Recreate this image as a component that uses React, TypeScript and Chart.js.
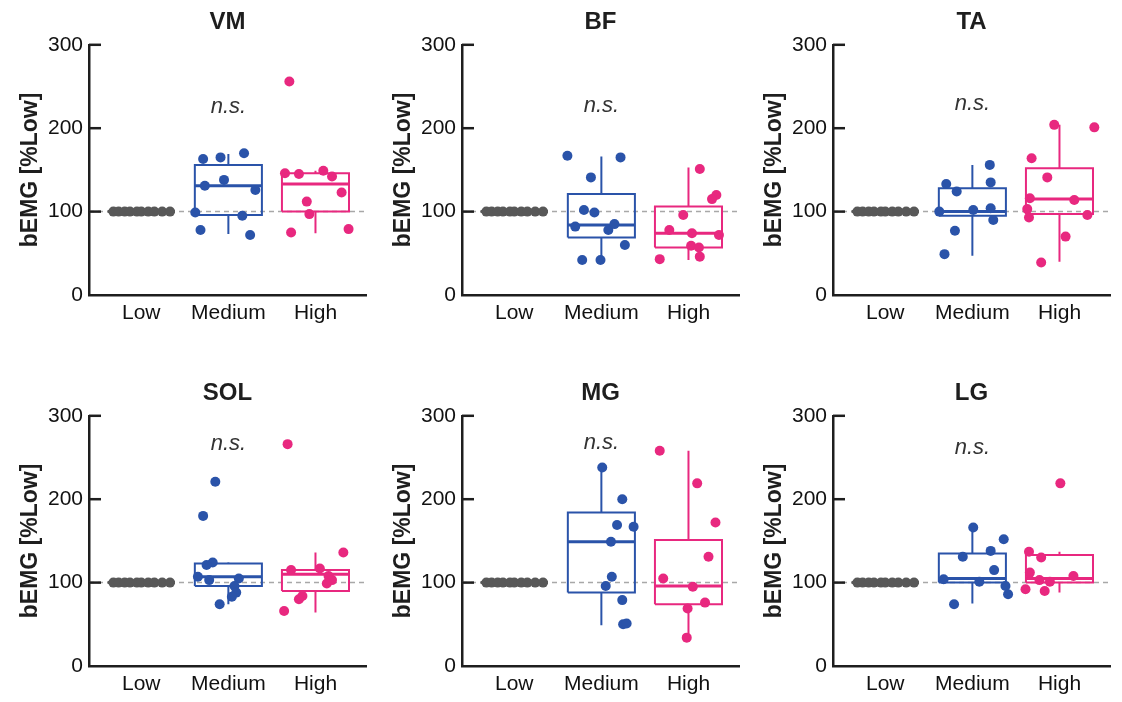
import React, { useEffect, useRef } from 'react';
import { Chart, registerables } from 'chart.js';

Chart.register(...registerables);

type Pt = [number, number];

// ---------- data ----------
const CATEGORIES = ['Low', 'Medium', 'High'];
const MUSCLES = ['VM', 'BF', 'TA', 'SOL', 'MG', 'LG'];
const Y_TICKS = [0, 100, 200, 300];
const Y_TITLE = 'bEMG [%Low]';
const REFERENCE = 100;
const SIG_LABEL = 'n.s.';

// Low condition: every subject normalised to 100 %
const LOW_POINTS: Pt[] = [
  [0.68, 100], [0.74, 100], [0.81, 100], [0.87, 100], [0.95, 100],
  [1.0, 100], [1.08, 100], [1.15, 100], [1.24, 100], [1.33, 100],
];
const LOW_STATS = [100, 100, 100, 100, 100];

// [x (category + jitter), value]
const VM_MED: Pt[] = [[1.71, 163], [1.91, 165], [2.18, 170], [1.95, 138], [1.73, 131], [2.31, 126], [1.62, 99], [2.16, 95], [1.68, 78], [2.25, 72]];
const VM_HIGH: Pt[] = [[2.70, 256], [2.65, 146], [2.81, 145], [3.09, 149], [3.19, 142], [3.30, 123], [2.90, 112], [2.93, 97], [2.72, 75], [3.38, 79]];
const BF_MED: Pt[] = [[1.61, 167], [2.22, 165], [1.88, 141], [1.80, 102], [1.92, 99], [1.70, 82], [2.08, 78], [2.15, 85], [2.27, 60], [1.78, 42], [1.99, 42]];
const BF_HIGH: Pt[] = [[3.13, 151], [3.32, 120], [3.27, 115], [2.94, 96], [2.78, 78], [3.04, 74], [3.35, 72], [3.03, 59], [3.12, 57], [3.13, 46], [2.67, 43]];
const TA_MED: Pt[] = [[2.20, 156], [1.70, 133], [1.82, 124], [2.21, 135], [1.62, 100], [2.01, 102], [2.21, 104], [2.24, 90], [1.80, 77], [1.68, 49]];
const TA_HIGH: Pt[] = [[2.94, 204], [3.40, 201], [2.68, 164], [2.86, 141], [2.66, 116], [3.17, 114], [2.63, 103], [2.65, 93], [3.32, 96], [3.07, 70], [2.79, 39]];
const SOL_MED: Pt[] = [[1.85, 221], [1.71, 180], [1.82, 124], [1.75, 121], [1.65, 107], [1.78, 103], [2.12, 105], [2.07, 96], [2.09, 88], [2.04, 83], [1.90, 74]];
const SOL_HIGH: Pt[] = [[2.68, 266], [3.32, 136], [2.72, 115], [3.05, 117], [3.15, 108], [3.19, 103], [3.13, 99], [2.85, 84], [2.81, 80], [2.64, 66]];
const MG_MED: Pt[] = [[2.01, 238], [2.24, 200], [2.18, 169], [2.37, 167], [2.11, 149], [2.12, 107], [2.05, 96], [2.24, 79], [2.25, 50], [2.29, 51]];
const MG_HIGH: Pt[] = [[2.67, 258], [3.10, 219], [3.31, 172], [3.23, 131], [2.71, 105], [3.05, 95], [3.19, 76], [2.99, 69], [2.98, 34]];
const LG_MED: Pt[] = [[2.01, 166], [2.36, 152], [2.21, 138], [1.89, 131], [2.25, 115], [1.67, 104], [2.08, 101], [2.38, 96], [2.41, 86], [1.79, 74]];
const LG_HIGH: Pt[] = [[3.01, 219], [2.65, 137], [2.79, 130], [2.66, 112], [3.16, 108], [2.77, 103], [2.89, 101], [2.61, 92], [2.83, 90]];

// box statistics: [lower whisker, Q1, median, Q3, upper whisker]
const VM_MED_STATS = [73, 96, 131, 156, 169];
const VM_HIGH_STATS = [74, 100, 133, 146, 149];
const BF_MED_STATS = [42, 69, 84, 121, 166];
const BF_HIGH_STATS = [42, 57, 74, 106, 153];
const TA_MED_STATS = [47, 95, 100, 128, 156];
const TA_HIGH_STATS = [40, 97, 115, 152, 204];
const SOL_MED_STATS = [74, 96, 107, 123, 124];
const SOL_HIGH_STATS = [64, 90, 110, 115, 136];
const MG_MED_STATS = [49, 88, 149, 184, 240];
const MG_HIGH_STATS = [35, 74, 96, 151, 258];
const LG_MED_STATS = [75, 100, 105, 135, 167];
const LG_HIGH_STATS = [88, 100, 105, 133, 137];

const MEDIUM_POINTS = [VM_MED, BF_MED, TA_MED, SOL_MED, MG_MED, LG_MED];
const HIGH_POINTS = [VM_HIGH, BF_HIGH, TA_HIGH, SOL_HIGH, MG_HIGH, LG_HIGH];
const MEDIUM_STATS = [VM_MED_STATS, BF_MED_STATS, TA_MED_STATS, SOL_MED_STATS, MG_MED_STATS, LG_MED_STATS];
const HIGH_STATS = [VM_HIGH_STATS, BF_HIGH_STATS, TA_HIGH_STATS, SOL_HIGH_STATS, MG_HIGH_STATS, LG_HIGH_STATS];
// height (in data units) of the "n.s." annotation in each panel
const NS_LEVEL = [218, 220, 222, 259, 260, 254];

// ---------- style ----------
const FONT = '"Liberation Sans", Arial, Helvetica, sans-serif';
const AXIS_COLOR = '#1e1e1e';
const LOW_COLOR = '#585858';
const MED_COLOR = '#2a53a9';
const HIGH_COLOR = '#e8287f';
const BOX_HALF = 0.385;
const X_MIN = 0.4;
const X_MAX = 3.58;
const CANVAS_W = 373;
const CANVAS_H = 331;
const COL_LEFT = [0, 373, 744];
const ROW_TOP = [0, 371];

function groupDatasets(center: number, pts: Pt[], stats: number[], color: string, medianWidth: number) {
  const [wl, q1, med, q3, wh] = stats;
  const h = BOX_HALF;
  const line = (data: { x: number; y: number }[], width: number) => ({
    type: 'scatter' as const,
    data,
    showLine: true,
    borderColor: color,
    borderWidth: width,
    borderJoinStyle: 'miter' as const,
    borderCapStyle: 'butt' as const,
    pointRadius: 0,
    fill: false,
    order: 2,
  });
  return [
    {
      type: 'scatter' as const,
      data: pts.map(([x, y]) => ({ x, y })),
      pointRadius: 5,
      pointBackgroundColor: color,
      pointBorderWidth: 0,
      backgroundColor: color,
      borderColor: color,
      showLine: false,
      order: 0,
    },
    line([{ x: center - h, y: q1 }, { x: center + h, y: q1 }, { x: center + h, y: q3 }, { x: center - h, y: q3 }, { x: center - h, y: q1 }], 2),
    line([{ x: center - h, y: med }, { x: center + h, y: med }], medianWidth),
    line([{ x: center, y: q3 }, { x: center, y: wh }], 2),
    line([{ x: center, y: wl }, { x: center, y: q1 }], 2),
  ];
}

function Panel({ index }: { index: number }) {
  const ref = useRef<HTMLCanvasElement | null>(null);

  useEffect(() => {
    if (!ref.current) return;
    const datasets: any[] = [
      {
        type: 'scatter',
        data: [{ x: X_MIN, y: REFERENCE }, { x: X_MAX, y: REFERENCE }],
        showLine: true,
        borderColor: '#a8a8a8',
        borderWidth: 1.5,
        borderDash: [5, 4],
        pointRadius: 0,
        order: 5,
      },
      ...groupDatasets(1, LOW_POINTS, LOW_STATS, LOW_COLOR, 3),
      ...groupDatasets(2, MEDIUM_POINTS[index], MEDIUM_STATS[index], MED_COLOR, 3),
      ...groupDatasets(3, HIGH_POINTS[index], HIGH_STATS[index], HIGH_COLOR, 3),
    ];

    const decor = {
      id: 'decor',
      afterDatasetsDraw(chart: any) {
        const { ctx, chartArea, scales } = chart;
        const xs = scales.x;
        const ys = scales.y;
        ctx.save();
        ctx.strokeStyle = AXIS_COLOR;
        ctx.lineWidth = 2.5;
        for (const v of Y_TICKS) {
          if (v === 0) continue;
          const py = ys.getPixelForValue(v);
          ctx.beginPath();
          ctx.moveTo(chartArea.left, py);
          ctx.lineTo(chartArea.left + 12, py);
          ctx.stroke();
        }
        ctx.font = `italic 22px ${FONT}`;
        ctx.fillStyle = '#333333';
        ctx.textAlign = 'center';
        ctx.textBaseline = 'alphabetic';
        ctx.fillText(SIG_LABEL, xs.getPixelForValue(2), ys.getPixelForValue(NS_LEVEL[index]));
        ctx.restore();
      },
    };

    const chart = new Chart(ref.current, {
      type: 'scatter',
      data: { datasets },
      options: {
        responsive: false,
        animation: false,
        events: [],
        layout: { padding: { left: 0, right: 7, top: 0, bottom: 0 } },
        plugins: {
          legend: { display: false },
          tooltip: { enabled: false },
          title: {
            display: true,
            text: MUSCLES[index],
            fullSize: false,
            color: AXIS_COLOR,
            font: { family: FONT, size: 24, weight: 'bold' },
            padding: { top: 8, bottom: 8 },
          },
        },
        scales: {
          x: {
            type: 'linear',
            min: X_MIN,
            max: X_MAX,
            grid: { display: false, drawTicks: false },
            border: { display: true, color: AXIS_COLOR, width: 2.5 },
            afterBuildTicks: (s: any) => {
              s.ticks = CATEGORIES.map((_, i) => ({ value: i + 1 }));
            },
            afterFit: (s: any) => {
              s.height = CANVAS_H - 295;
            },
            ticks: {
              autoSkip: false,
              maxRotation: 0,
              padding: 6,
              color: '#111111',
              font: { family: FONT, size: 21 },
              callback: (v: any) => CATEGORIES[Math.round(Number(v)) - 1] ?? '',
            },
          },
          y: {
            type: 'linear',
            min: 0,
            max: 300,
            grid: { display: false, drawTicks: false },
            border: { display: true, color: AXIS_COLOR, width: 2.5 },
            afterBuildTicks: (s: any) => {
              s.ticks = Y_TICKS.map((v) => ({ value: v }));
            },
            afterFit: (s: any) => {
              s.width = 89;
            },
            ticks: {
              padding: 6,
              color: '#111111',
              font: { family: FONT, size: 21 },
            },
            title: {
              display: true,
              text: Y_TITLE,
              color: AXIS_COLOR,
              font: { family: FONT, size: 23, weight: 'bold' },
              padding: { top: 17, bottom: 0 },
            },
          },
        },
      } as any,
      plugins: [decor],
    });
    return () => chart.destroy();
  }, [index]);

  const col = index % 3;
  const row = Math.floor(index / 3);
  return (
    <div style={{ position: 'absolute', left: COL_LEFT[col], top: ROW_TOP[row], width: CANVAS_W, height: CANVAS_H }}>
      <canvas ref={ref} width={CANVAS_W} height={CANVAS_H} style={{ display: 'block' }} />
    </div>
  );
}

export default function App() {
  return (
    <div style={{ position: 'fixed', left: 0, top: 0, width: 1122, height: 702, background: '#ffffff', overflow: 'hidden' }}>
      {MUSCLES.map((_, i) => (
        <Panel key={i} index={i} />
      ))}
    </div>
  );
}
